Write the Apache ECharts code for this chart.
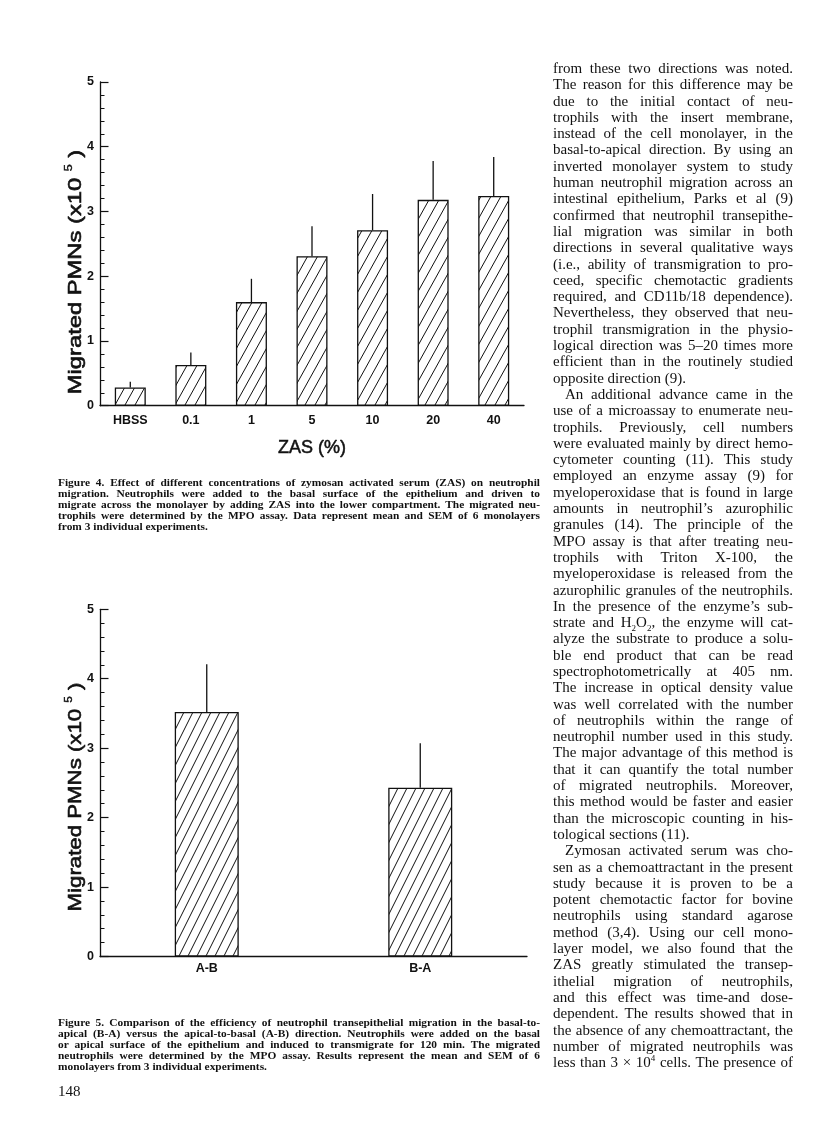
<!DOCTYPE html>
<html>
<head>
<meta charset="utf-8">
<script src="https://cdn.jsdelivr.net/npm/echarts@6/dist/echarts.min.js"></script>
<style>
  html, body { margin: 0; padding: 0; background: #fff; }
  #page { position: relative; width: 816px; height: 1125px; overflow: hidden; background: #fff; }
  #chart { position: absolute; left: 0; top: 0; width: 816px; height: 1125px; }
  .col { position: absolute; left: 553px; top: 60px; width: 240px; font-family: 'Liberation Serif', 'DejaVu Serif', serif; font-size: 15px; line-height: 16.3px; color: #111; }
  .col div, .cap div { text-align: justify; text-align-last: justify; height: 16.3px; }
  .col div.end, .cap div.end { text-align-last: left; }
  .col div.ind { text-indent: 12px; }
  .cap { position: absolute; left: 58px; width: 482px; font-family: 'Liberation Serif', 'DejaVu Serif', serif; font-weight: bold; font-size: 11.4px; line-height: 11px; color: #111; }
  .cap div { height: 11px; }
  .pno { position: absolute; left: 58px; top: 1083px; font-family: 'Liberation Serif', serif; font-size: 15px; line-height: 16px; color: #111; }
</style>
</head>
<body>
<div id="page">
  <div id="chart"></div>

  <div class="cap" style="top:477px">
    <div>Figure 4. Effect of different concentrations of zymosan activated serum (ZAS) on neutrophil</div>
    <div>migration. Neutrophils were added to the basal surface of the epithelium and driven to</div>
    <div>migrate across the monolayer by adding ZAS into the lower compartment. The migrated neu-</div>
    <div>trophils were determined by the MPO assay. Data represent mean and SEM of 6 monolayers</div>
    <div class="end">from 3 individual experiments.</div>
  </div>

  <div class="cap" style="top:1017px">
    <div>Figure 5. Comparison of the efficiency of neutrophil transepithelial migration in the basal-to-</div>
    <div>apical (B-A) versus the apical-to-basal (A-B) direction. Neutrophils were added on the basal</div>
    <div>or apical surface of the epithelium and induced to transmigrate for 120 min. The migrated</div>
    <div>neutrophils were determined by the MPO assay. Results represent the mean and SEM of 6</div>
    <div class="end">monolayers from 3 individual experiments.</div>
  </div>

  <div class="pno">148</div>

  <div class="col">
    <div>from these two directions was noted.</div>
    <div>The reason for this difference may be</div>
    <div>due to the initial contact of neu-</div>
    <div>trophils with the insert membrane,</div>
    <div>instead of the cell monolayer, in the</div>
    <div>basal-to-apical direction. By using an</div>
    <div>inverted monolayer system to study</div>
    <div>human neutrophil migration across an</div>
    <div>intestinal epithelium, Parks et al (9)</div>
    <div>confirmed that neutrophil transepithe-</div>
    <div>lial migration was similar in both</div>
    <div>directions in several qualitative ways</div>
    <div>(i.e., ability of transmigration to pro-</div>
    <div>ceed, specific chemotactic gradients</div>
    <div>required, and CD11b/18 dependence).</div>
    <div>Nevertheless, they observed that neu-</div>
    <div>trophil transmigration in the physio-</div>
    <div>logical direction was 5–20 times more</div>
    <div>efficient than in the routinely studied</div>
    <div class="end">opposite direction (9).</div>
    <div class="ind">An additional advance came in the</div>
    <div>use of a microassay to enumerate neu-</div>
    <div>trophils. Previously, cell numbers</div>
    <div>were evaluated mainly by direct hemo-</div>
    <div>cytometer counting (11). This study</div>
    <div>employed an enzyme assay (9) for</div>
    <div>myeloperoxidase that is found in large</div>
    <div>amounts in neutrophil’s azurophilic</div>
    <div>granules (14). The principle of the</div>
    <div>MPO assay is that after treating neu-</div>
    <div>trophils with Triton X-100, the</div>
    <div>myeloperoxidase is released from the</div>
    <div>azurophilic granules of the neutrophils.</div>
    <div>In the presence of the enzyme’s sub-</div>
    <div>strate and H<sub style="font-size:9px;line-height:0">2</sub>O<sub style="font-size:9px;line-height:0">2</sub>, the enzyme will cat-</div>
    <div>alyze the substrate to produce a solu-</div>
    <div>ble end product that can be read</div>
    <div>spectrophotometrically at 405 nm.</div>
    <div>The increase in optical density value</div>
    <div>was well correlated with the number</div>
    <div>of neutrophils within the range of</div>
    <div>neutrophil number used in this study.</div>
    <div>The major advantage of this method is</div>
    <div>that it can quantify the total number</div>
    <div>of migrated neutrophils. Moreover,</div>
    <div>this method would be faster and easier</div>
    <div>than the microscopic counting in his-</div>
    <div class="end">tological sections (11).</div>
    <div class="ind">Zymosan activated serum was cho-</div>
    <div>sen as a chemoattractant in the present</div>
    <div>study because it is proven to be a</div>
    <div>potent chemotactic factor for bovine</div>
    <div>neutrophils using standard agarose</div>
    <div>method (3,4). Using our cell mono-</div>
    <div>layer model, we also found that the</div>
    <div>ZAS greatly stimulated the transep-</div>
    <div>ithelial migration of neutrophils,</div>
    <div>and this effect was time-and dose-</div>
    <div>dependent. The results showed that in</div>
    <div>the absence of any chemoattractant, the</div>
    <div>number of migrated neutrophils was</div>
    <div>less than 3 × 10<sup style="font-size:9px;line-height:0">4</sup> cells. The presence of</div>
  </div>
</div>

<script>
// ---- Figure 4 data ----
const fig4Categories = ['HBSS', '0.1', '1', '5', '10', '20', '40'];
const fig4Means = [0.28, 0.63, 1.60, 2.31, 2.71, 3.18, 3.24];
const fig4Sem = [0.09, 0.19, 0.36, 0.46, 0.56, 0.60, 0.60];

// ---- Figure 5 data ----
const fig5Categories = ['A-B', 'B-A'];
const fig5Means = [3.52, 2.43];
const fig5Sem = [0.69, 0.64];

// ---- axis / titles ----
const yAxisMin = 0, yAxisMax = 5, yAxisStep = 1;
const yTitle = 'Migrated PMNs';
const xTitle4 = 'ZAS (%)';

function hatch(w, h) {
  const c = document.createElement('canvas');
  c.width = w; c.height = h;
  const g = c.getContext('2d');
  g.fillStyle = '#fff';
  g.fillRect(0, 0, w, h);
  g.strokeStyle = '#111';
  g.lineWidth = 1;
  for (const o of [-w, 0, w]) {
    g.beginPath();
    g.moveTo(o, h);
    g.lineTo(o + w, 0);
    g.stroke();
  }
  return { image: c, repeat: 'repeat' };
}

const INK = '#111';
const axisLine = { show: true, lineStyle: { color: INK, width: 1.3 } };
const tickLabelFont = { color: INK, fontWeight: 'bold', fontSize: 12.5, fontFamily: 'Liberation Sans, Arial, sans-serif' };

function yAxisFor(gridIndex) {
  return {
    gridIndex, type: 'value', min: yAxisMin, max: yAxisMax, interval: yAxisStep,
    axisLine,
    axisTick: { show: true, inside: true, length: 8.5, lineStyle: { color: INK, width: 1.2 } },
    minorTick: { show: true, splitNumber: 5, length: 4.5, lineStyle: { color: INK, width: 1 } },
    splitLine: { show: false },
    axisLabel: Object.assign({ margin: 6 }, tickLabelFont)
  };
}

function errorSeries(axisIdx, means, sems) {
  return {
    type: 'custom', xAxisIndex: axisIdx, yAxisIndex: axisIdx, z: 5, silent: true,
    data: means.map((m, i) => [i, m, sems[i]]),
    renderItem(params, api) {
      const i = api.value(0), m = api.value(1), e = api.value(2);
      const p0 = api.coord([i, m]);
      const p1 = api.coord([i, m + e]);
      return { type: 'line', shape: { x1: p0[0], y1: p0[1], x2: p1[0], y2: p1[1] },
               style: { stroke: INK, lineWidth: 1.3 } };
    }
  };
}

function titleRich(fs) {
  return {
    a: { fontSize: fs, fontFamily: 'Liberation Sans, Arial, sans-serif', fill: INK, stroke: INK, lineWidth: 0.6, lineHeight: fs + 4 },
    s: { fontSize: Math.round(fs * 0.55), fontFamily: 'Liberation Sans, Arial, sans-serif', fill: INK, stroke: INK, lineWidth: 0.4, lineHeight: fs + 4, verticalAlign: 'top' }
  };
}
function yTitleGraphic(x, y, fs, stretch) {
  return {
    type: 'text', x, y, rotation: Math.PI / 2, scaleX: stretch,
    style: { text: '{a|' + yTitle + ' (x10 }{s|5}{a| )}', rich: titleRich(fs), align: 'center', verticalAlign: 'middle' }
  };
}

const chart = echarts.init(document.getElementById('chart'), null, { renderer: 'canvas' });
chart.setOption({
  animation: false,
  backgroundColor: '#fff',
  grid: [
    { left: 100, top: 82, width: 424, height: 323.7 },
    { left: 100, top: 609.3, width: 427, height: 347.2 }
  ],
  xAxis: [
    {
      gridIndex: 0, type: 'category', data: fig4Categories, axisLine, axisTick: { show: false },
      axisLabel: Object.assign({ margin: 8 }, tickLabelFont),
      name: xTitle4, nameLocation: 'middle', nameGap: 33,
      nameTextStyle: { color: INK, fontSize: 18, fontFamily: 'Liberation Sans, Arial, sans-serif', textBorderColor: INK, textBorderWidth: 0.5 }
    },
    {
      gridIndex: 1, type: 'category', data: fig5Categories, axisLine, axisTick: { show: false },
      axisLabel: Object.assign({ margin: 6 }, tickLabelFont)
    }
  ],
  yAxis: [yAxisFor(0), yAxisFor(1)],
  series: [
    {
      type: 'bar', xAxisIndex: 0, yAxisIndex: 0, data: fig4Means, barWidth: 31,
      itemStyle: { color: hatch(10, 18), borderColor: INK, borderWidth: 1.3 }, silent: true
    },
    errorSeries(0, fig4Means, fig4Sem),
    {
      type: 'bar', xAxisIndex: 1, yAxisIndex: 1, data: fig5Means, barWidth: 64,
      itemStyle: { color: hatch(9, 18), borderColor: INK, borderWidth: 1.3 }, silent: true
    },
    errorSeries(1, fig5Means, fig5Sem)
  ],
  graphic: [yTitleGraphic(76, 272, 19, 1.25), yTitleGraphic(76, 797, 19, 1.17)]
});
</script>
</body>
</html>
